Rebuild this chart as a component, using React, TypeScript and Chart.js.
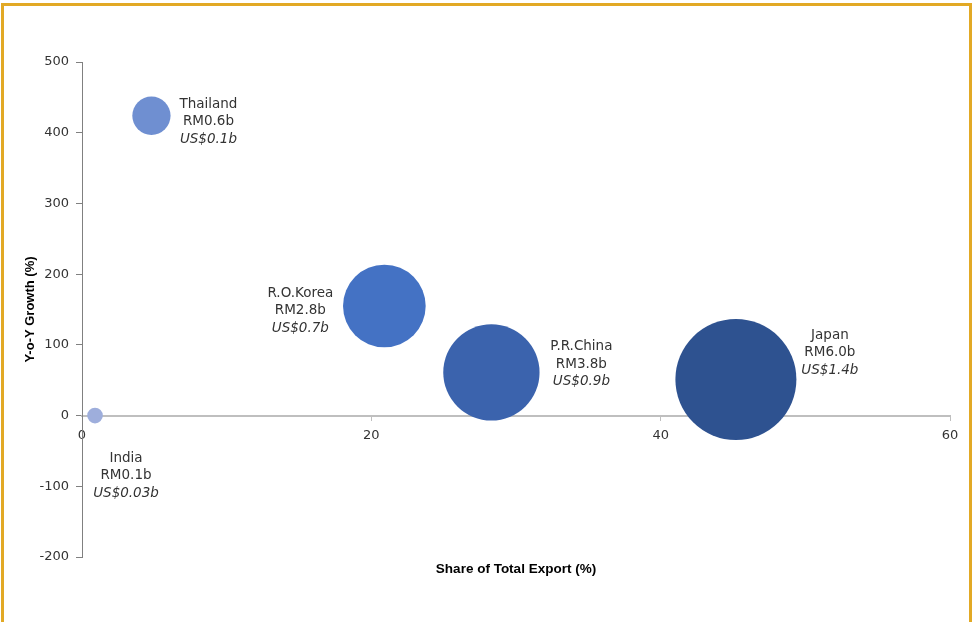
import React, { useEffect, useRef } from "react";
import { Chart, registerables } from "chart.js";

Chart.register(...registerables);

const countries = ["India", "Thailand", "R.O.Korea", "P.R.China", "Japan"];
const shareOfExport = [0.9, 4.8, 20.9, 28.3, 45.2];
const yoyGrowth = [0, 424, 155, 61, 51];
const exportRM = [0.1, 0.6, 2.8, 3.8, 6.0];
const rmLabels = ["RM0.1b", "RM0.6b", "RM2.8b", "RM3.8b", "RM6.0b"];
const usdLabels = ["US$0.03b", "US$0.1b", "US$0.7b", "US$0.9b", "US$1.4b"];
const xTicks = [0, 20, 40, 60];
const yTicks = [-200, -100, 0, 100, 200, 300, 400, 500];

const bubbleColors = ["#9EAEDC", "#6F8FD1", "#4472C4", "#3B63AD", "#2E5290"];
const labelOffsets = [
  [31, 60],
  [57, 6],
  [-84, 5],
  [90, -8],
  [94, -27],
];

const LABEL_FONT = '"DejaVu Sans", sans-serif';

const decorPlugin = {
  id: "decor",
  beforeDraw(chart: any) {
    const ctx = chart.ctx;
    ctx.save();
    ctx.strokeStyle = "#E2A925";
    ctx.lineWidth = 3;
    ctx.beginPath();
    ctx.moveTo(2.5, 640);
    ctx.lineTo(2.5, 4.5);
    ctx.lineTo(970.5, 4.5);
    ctx.lineTo(970.5, 640);
    ctx.stroke();
    ctx.restore();
  },
  afterDraw(chart: any) {
    const ctx = chart.ctx;
    const area = chart.chartArea;
    ctx.save();
    // axis titles
    ctx.fillStyle = "#000000";
    ctx.textAlign = "center";
    ctx.textBaseline = "middle";
    ctx.font = 'bold 13.5px "Liberation Sans", Arial, sans-serif';
    ctx.fillText("Share of Total Export (%)", (area.left + area.right) / 2, 569);
    ctx.save();
    ctx.font = 'bold 13px "Liberation Sans", Arial, sans-serif';
    ctx.translate(30, (area.top + area.bottom) / 2);
    ctx.rotate(-Math.PI / 2);
    ctx.fillText("Y-o-Y Growth (%)", 0, 0);
    ctx.restore();

    // data labels
    const meta = chart.getDatasetMeta(0);
    meta.data.forEach((el: any, i: number) => {
      const cx = el.x + labelOffsets[i][0];
      const cy = el.y + labelOffsets[i][1];
      ctx.fillStyle = "#333333";
      ctx.textAlign = "center";
      ctx.textBaseline = "middle";
      ctx.font = "13.5px " + LABEL_FONT;
      ctx.fillText(countries[i], cx, cy - 17.5);
      ctx.fillText(rmLabels[i], cx, cy);
      ctx.font = "italic 13.5px " + LABEL_FONT;
      ctx.fillText(usdLabels[i], cx, cy + 17.5);
    });
    ctx.restore();
  },
};

export default function App() {
  const ref = useRef<HTMLCanvasElement | null>(null);
  useEffect(() => {
    if (!ref.current) return;
    const data = countries.map((c, i) => ({
      x: shareOfExport[i],
      y: yoyGrowth[i],
      r: 24.7 * Math.sqrt(exportRM[i]),
    }));
    const chart = new Chart(ref.current, {
      type: "bubble",
      data: {
        datasets: [
          {
            label: "Export",
            data,
            backgroundColor: bubbleColors,
            borderColor: bubbleColors,
            borderWidth: 0,
            hoverRadius: 0,
          },
        ],
      },
      options: {
        responsive: false,
        animation: false,
        events: [],
        layout: { autoPadding: false, padding: { left: 0, right: 26, top: 62, bottom: 65 } },
        plugins: { legend: { display: false }, tooltip: { enabled: false } },
        scales: {
          x: {
            type: "linear",
            position: { y: 0 },
            min: 0,
            max: 60,
            afterBuildTicks: (s: any) => {
              s.ticks = xTicks.map((v) => ({ value: v }));
            },
            ticks: {
              color: "#333333",
              font: { family: LABEL_FONT, size: 13 },
              padding: 8,
              maxRotation: 0,
              callback: (v: any) => String(v),
            },
            grid: {
              drawOnChartArea: false,
              drawTicks: true,
              tickLength: 4,
              color: "#BFBFBF",
            },
            border: { display: true, color: "#BFBFBF", width: 2 },
          },
          y: {
            type: "linear",
            min: -200,
            max: 500,
            afterBuildTicks: (s: any) => {
              s.ticks = yTicks.map((v) => ({ value: v }));
            },
            afterFit: (s: any) => {
              s.width = 82;
            },
            ticks: {
              color: "#333333",
              font: { family: LABEL_FONT, size: 13 },
              padding: 7,
              callback: (v: any) => String(v),
            },
            grid: {
              drawOnChartArea: false,
              drawTicks: true,
              tickLength: 6,
              color: "#808080",
            },
            border: { display: true, color: "#808080", width: 1 },
          },
        },
      },
      plugins: [decorPlugin],
    });
    return () => chart.destroy();
  }, []);
  return (
    <div style={{ position: "fixed", left: 0, top: 0, width: 976, height: 622, background: "#ffffff" }}>
      <canvas ref={ref} width={976} height={622} style={{ display: "block" }} />
    </div>
  );
}
